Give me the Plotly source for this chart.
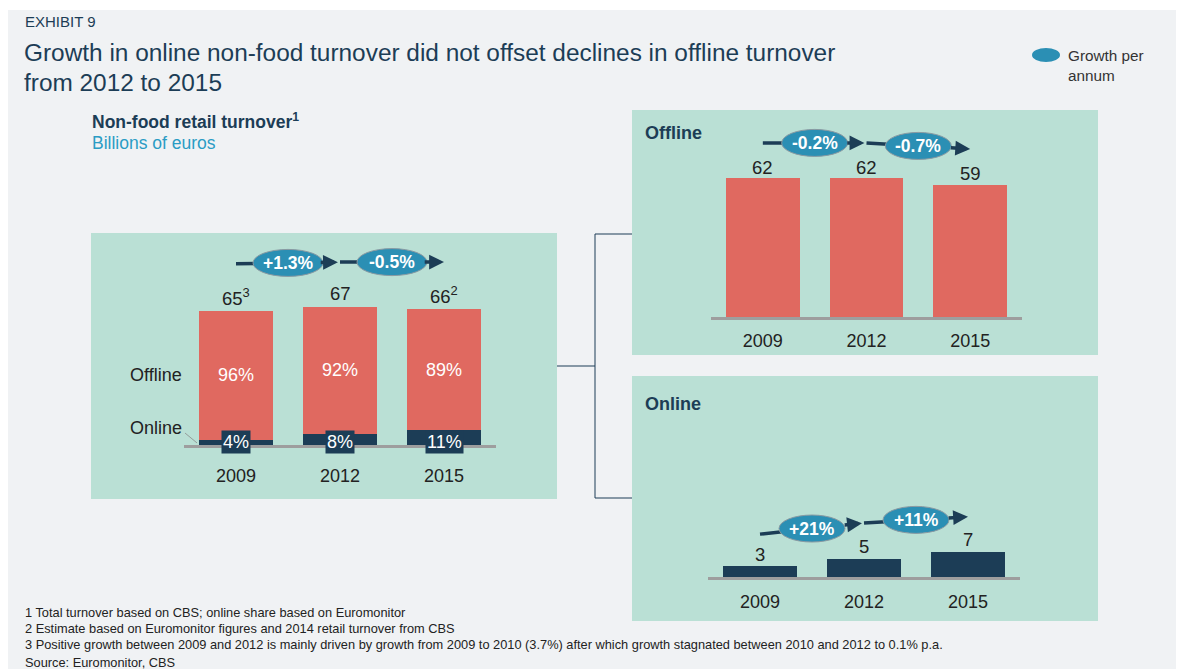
import plotly.graph_objects as go

# ---------------- data ----------------
years = ["2009", "2012", "2015"]
total_turnover = [65, 67, 66]
total_notes = ["3", "", "2"]
online_share = [4, 8, 11]
offline_share = [96, 92, 89]
offline_turnover = [62, 62, 59]
online_turnover = [3, 5, 7]
total_growth = ["+1.3%", "-0.5%"]
offline_growth = ["-0.2%", "-0.7%"]
online_growth = ["+21%", "+11%"]

footnotes = [
    "1 Total turnover based on CBS; online share based on Euromonitor",
    "2 Estimate based on Euromonitor figures and 2014 retail turnover from CBS",
    "3 Positive growth between 2009 and 2012 is mainly driven by growth from 2009 to 2010 (3.7%) after which growth stagnated between 2010 and 2012 to 0.1% p.a.",
]
source = "Source: Euromonitor, CBS"

# ---------------- style ----------------
W, H = 1184, 669
OFF = 8  # page body margin
RED = "#e06960"
NAVY = "#1c3d56"
MINT = "#bae0d5"
BG = "#f0f2f4"
BLUE = "#2b8fb4"
BASE = "#9e9e9e"
TXT = "#222222"
FONT = "Liberation Sans, Arial, sans-serif"


def X(px):
    return (px - OFF) / W


def Y(py):
    return 1 - (py - OFF) / H


online_part = [t * s / 100 for t, s in zip(total_turnover, online_share)]
offline_part = [t - o for t, o in zip(total_turnover, online_part)]

fig = go.Figure()
fig.add_trace(go.Bar(x=years, y=online_part, marker=dict(color=NAVY, line=dict(width=0)),
                     xaxis="x", yaxis="y", hoverinfo="skip"))
fig.add_trace(go.Bar(x=years, y=offline_part, marker=dict(color=RED, line=dict(width=0)),
                     text=[f"{s}%" for s in offline_share], textposition="inside",
                     insidetextanchor="middle", textangle=0, constraintext="none",
                     textfont=dict(color="white", size=18, family=FONT),
                     xaxis="x", yaxis="y", hoverinfo="skip"))
fig.add_trace(go.Bar(x=years, y=offline_turnover, marker=dict(color=RED, line=dict(width=0)),
                     xaxis="x2", yaxis="y2", hoverinfo="skip"))
fig.add_trace(go.Bar(x=years, y=online_turnover, marker=dict(color=NAVY, line=dict(width=0)),
                     xaxis="x3", yaxis="y3", hoverinfo="skip"))

shapes = []
ann = []


def text(x, y, s, size, color=TXT, xanchor="left", yanchor="middle", xref="paper", yref="paper", **kw):
    ann.append(dict(xref=xref, yref=yref, x=x, y=y, text=s, showarrow=False, xanchor=xanchor,
                    yanchor=yanchor, font=dict(size=size, color=color, family=FONT), **kw))


# background & panels
shapes.append(dict(type="rect", xref="paper", yref="paper", x0=X(8), x1=X(W + OFF + 10), y0=Y(10),
                   y1=Y(H + OFF + 10), fillcolor=BG, line=dict(width=0), layer="below"))
for (a, b, c, d) in [(91, 233, 557, 499), (632, 110, 1098, 355), (632, 376, 1098, 621)]:
    shapes.append(dict(type="rect", xref="paper", yref="paper", x0=X(a), x1=X(c), y0=Y(b), y1=Y(d),
                       fillcolor=MINT, line=dict(width=0), layer="below"))

# connectors
for (a, b, c, d) in [(557, 366, 595, 366), (595, 234, 595, 498), (595, 234, 632, 234), (595, 498, 632, 498)]:
    shapes.append(dict(type="line", xref="paper", yref="paper", x0=X(a), x1=X(c), y0=Y(b), y1=Y(d),
                       line=dict(color=NAVY, width=1), layer="below"))


def growth(sfx, labels, levels, rx=33, ry=13.5):
    xr, yr = "x" + sfx, "y" + sfx
    for i, lab in enumerate(labels):
        ya, yb = levels[i], levels[i + 1]
        xm, ym = i + 0.5, (ya + yb) / 2
        shapes.append(dict(type="line", xref=xr, yref=yr, x0=i, y0=ya, x1=xm, y1=ym,
                           line=dict(color=NAVY, width=3.5)))
        shapes.append(dict(type="circle", xref=xr, yref=yr, xsizemode="pixel", xanchor=xm,
                           x0=-rx, x1=rx, ysizemode="pixel", yanchor=ym, y0=-ry, y1=ry,
                           fillcolor=BLUE, line=dict(color="#8a9aa2", width=1)))
        text(xm, ym, f"<b>{lab}</b>", 17.5, color="white", xanchor="center", xref=xr, yref=yr)
        t0 = 0.8
        tip = 0.98 if i == 0 else 1.0
        ann.append(dict(xref=xr, yref=yr, axref=xr, ayref=yr,
                        x=i + tip, y=ya + (yb - ya) * tip,
                        ax=i + t0, ay=ya + (yb - ya) * t0,
                        text="", showarrow=True, arrowhead=2, arrowsize=0.85, arrowwidth=3.5,
                        arrowcolor=NAVY, standoff=0, startstandoff=0))


growth("", total_growth, [88.0, 88.8, 88.8], rx=35)
growth("2", offline_growth, [77.7, 77.7, 75.0])
growth("3", online_growth, [11.9, 15.0, 16.7])

# value labels (x given as category index)
for i in range(len(years)):
    note = f"<sup>{total_notes[i]}</sup>" if total_notes[i] else ""
    text(i, total_turnover[i], f"{total_turnover[i]}{note}", 18.5, xanchor="center",
         xref="x", yref="y", yshift=14)
    text(i, 0, f"{online_share[i]}%", 18, color="white", xanchor="center", xref="x", yref="y",
         yshift=3, bgcolor=NAVY, borderpad=1)
    text(i, offline_turnover[i], str(offline_turnover[i]), 18.5, xanchor="center",
         xref="x2", yref="y2", yshift=11)
    text(i, online_turnover[i], str(online_turnover[i]), 18.5, xanchor="center",
         xref="x3", yref="y3", yshift=12)

# segment labels on left chart
text(-0.5, (online_part[0] + total_turnover[0]) / 2, "Offline", 18, xanchor="right", xref="x", yref="y")
text(-0.5, 8.3, "Online", 18, xanchor="right", xref="x", yref="y")
shapes.append(dict(type="line", xref="x", yref="y", x0=-0.49, y0=5.8, x1=-0.375, y1=1.0,
                   line=dict(color="#8a8a8a", width=0.8)))

# panel titles
text(X(643), Y(133), "<b>Offline</b>", 18, color=NAVY)
text(X(643), Y(404), "<b>Online</b>", 18, color=NAVY)

# headings
text(X(23), Y(22), "EXHIBIT 9", 15, color=NAVY)
text(X(22), Y(53), "Growth in online non-food turnover did not offset declines in offline turnover", 24.4, color=NAVY)
text(X(22), Y(82), "from 2012 to 2015", 24.4, color=NAVY)
text(X(90), Y(121), "<b>Non-food retail turnover<sup>1</sup></b>", 17.5, color=NAVY)
text(X(90), Y(143), "Billions of euros", 17.5, color="#2a9cc4")

# legend
shapes.append(dict(type="circle", xref="paper", yref="paper", x0=X(1032), x1=X(1060), y0=Y(48), y1=Y(62),
                   fillcolor=BLUE, line=dict(width=0)))
text(X(1066), Y(45), "Growth per<br>annum", 15.3, color="#333333", yanchor="top", align="left")

# footnotes
for t, py in zip(footnotes + [source], [612, 628, 644, 662]):
    text(X(23), Y(py), t, 12.8)

xcommon = dict(type="category", range=[-0.5, 2.5], showline=True, linecolor=BASE, linewidth=3,
               ticks="", showgrid=False, zeroline=False, fixedrange=True,
               tickfont=dict(size=18, color=TXT, family=FONT))
ycommon = dict(visible=False, showgrid=False, zeroline=False, fixedrange=True)

fig.update_layout(
    width=W, height=H, autosize=False, margin=dict(l=0, r=0, t=0, b=0),
    paper_bgcolor="white", plot_bgcolor="rgba(0,0,0,0)",
    barmode="stack", bargap=0.288, showlegend=False,
    font=dict(family=FONT, color=TXT),
    xaxis=dict(xcommon, domain=[X(184), X(496)], anchor="y", ticklabelstandoff=12),
    yaxis=dict(ycommon, domain=[Y(445), Y(245)], range=[0, 97.1], anchor="x"),
    xaxis2=dict(xcommon, domain=[X(711), X(1022)], anchor="y2", ticklabelstandoff=5),
    yaxis2=dict(ycommon, domain=[Y(317), Y(127)], range=[0, 84.8], anchor="x2"),
    xaxis3=dict(xcommon, domain=[X(708), X(1020)], anchor="y3", ticklabelstandoff=6),
    yaxis3=dict(ycommon, domain=[Y(577), Y(417)], range=[0, 44.4], anchor="x3"),
    shapes=shapes, annotations=ann,
)

fig.write_html("out.html")
